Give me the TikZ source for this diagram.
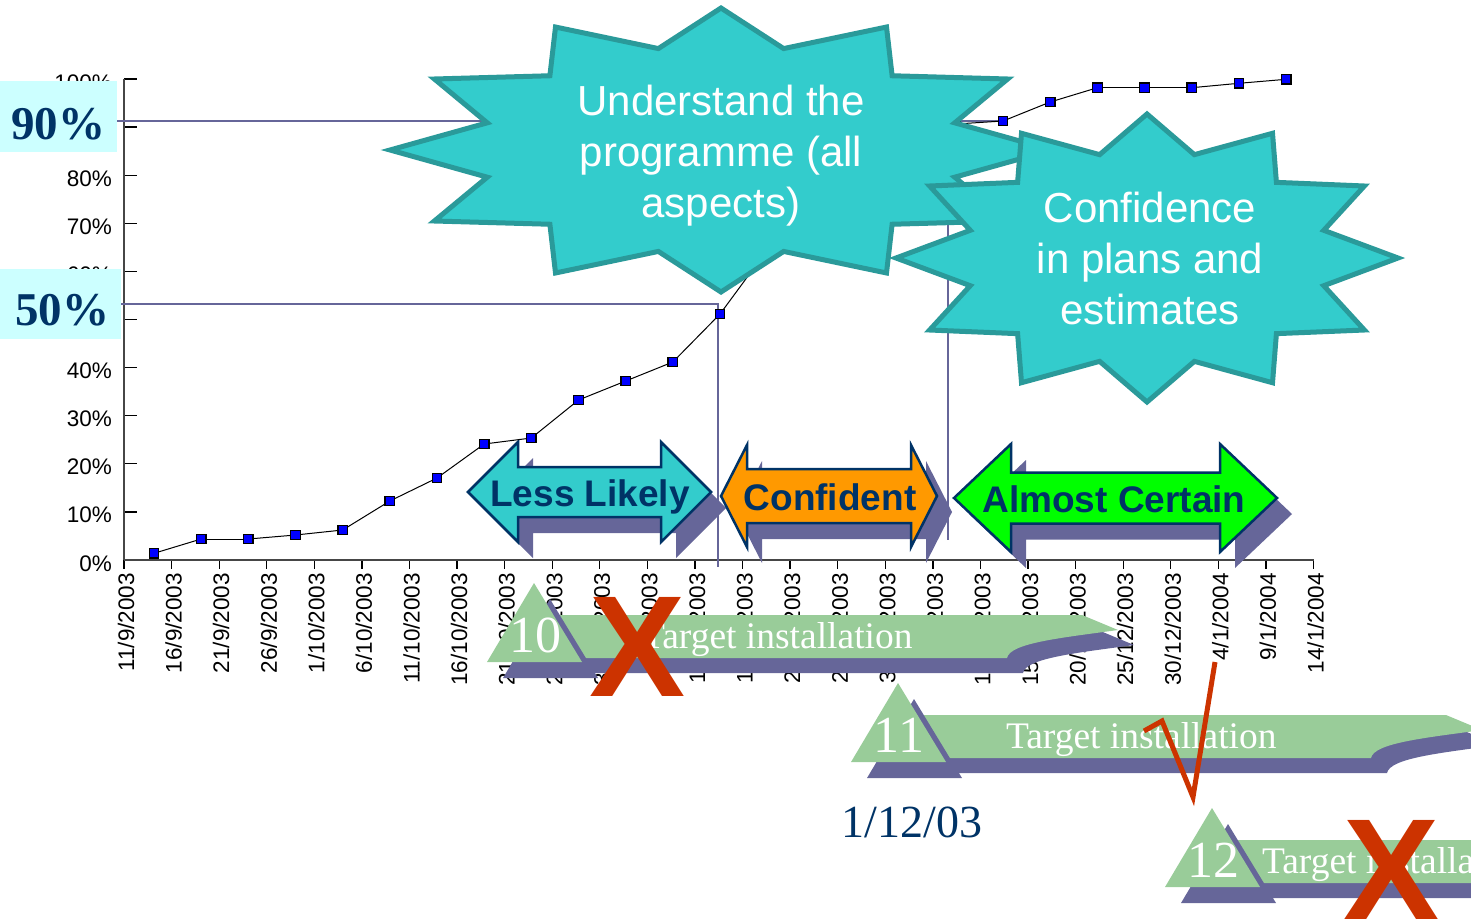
\documentclass[tikz,border=0pt]{standalone}
\usepackage{fontspec}
\setmainfont{Liberation Serif}
\setsansfont{Liberation Sans}

\definecolor{burstfill}{HTML}{33CCCC}
\definecolor{burstedge}{HTML}{2A9A9A}
\definecolor{slate}{HTML}{666699}
\definecolor{navy}{HTML}{003366}
\definecolor{paleblue}{HTML}{CCFFFF}
\definecolor{sage}{HTML}{99CC99}
\definecolor{alarm}{HTML}{CC3300}
\definecolor{amber}{HTML}{FF9900}
\definecolor{lime}{HTML}{00FF00}
\definecolor{markblue}{HTML}{0000FF}

% double-headed arrow outline: x1, x2, centre y, head length, head half-height, shaft half-height
\newcommand\dblarrowpath[6]{(#1,#3) -- (#1+#4,#3-#5) -- (#1+#4,#3-#6) -- (#2-#4,#3-#6) -- (#2-#4,#3-#5) -- (#2,#3) -- (#2-#4,#3+#5) -- (#2-#4,#3+#6) -- (#1+#4,#3+#6) -- (#1+#4,#3+#5) -- cycle}

% twelve-point burst: centre x, centre y, outer radii, inner radii
\newcommand\burstpath[6]{plot[samples at={0,15,...,345}, variable=\t] ({#1+((mod(\t,30)<1) ? #3 : #5)*cos(\t)}, {#2+((mod(\t,30)<1) ? #4 : #6)*sin(\t)}) -- cycle}

% milestone flag: name, apex x, apex y, number, x offset of caption
\newcommand\milestone[5]{%
  \begin{scope}[shift={(#2,#3)}]
    \fill[slate, shift={(16,15)}] (10,32) -- (548,32) -- (584,47) .. controls (526,55) and (476,60) .. (473,75) -- (10,75) -- cycle;
    \fill[sage] (10,32) -- (548,32) -- (584,47) .. controls (526,55) and (476,60) .. (473,75) -- (10,75) -- cycle;
    \fill[slate, shift={(16,16)}] (0,0) -- (-47,79) -- (48,79) -- cycle;
    \fill[sage] (0,0) -- (-47,79) -- (48,79) -- cycle;
    \node[flagnum, anchor=base] (#1num) at (1,69) {#4};
    \node[flagtext, anchor=base west] (#1txt) at (#5,65) {Target installation};
  \end{scope}}

\begin{document}
\begin{tikzpicture}[x=1pt, y=-1pt,
  every node/.style={inner sep=0pt, outer sep=0pt},
  axisline/.style={draw=gray!55!black, line width=1.6pt},
  tickmark/.style={draw=black, line width=1.3pt},
  ticklabel/.style={font=\sffamily\fontsize{22.5}{26}\selectfont},
  refline/.style={draw=slate, line width=2.6pt},
  dataline/.style={draw=black, line width=1pt},
  marker/.style={rectangle, draw=black, fill=markblue, line width=1.3pt, minimum size=9.5pt},
  levelbox/.style={fill=paleblue},
  leveltext/.style={font=\bfseries\fontsize{47}{50}\selectfont, text=navy},
  burst/.style={fill=burstfill, draw=burstedge, line width=5pt, line join=miter},
  bursttext/.style={font=\sffamily\fontsize{42}{51}\selectfont, text=white, align=center},
  arrowbody/.style={draw=navy, line width=2.5pt, line join=miter},
  arrowshade/.style={fill=slate},
  arrowtext/.style={font=\sffamily\bfseries\fontsize{37}{40}\selectfont, text=navy},
  flagnum/.style={font=\fontsize{52}{56}\selectfont, text=white},
  flagtext/.style={font=\fontsize{37.5}{40}\selectfont, text=white},
  cross/.style={font=\sffamily\bfseries\fontsize{144}{150}\selectfont, text=alarm},
  datetext/.style={font=\fontsize{46}{50}\selectfont, text=navy}]

\useasboundingbox (0,0) rectangle (1471,921);
\clip (0,0) rectangle (1471,921);

% ---------- axes ----------
\foreach \v in {0,10,...,100}{
  \draw[tickmark] (124,{560-4.81*\v}) -- (137,{560-4.81*\v});
}
% the 50% and 90% labels sit under the level boxes, so only the others are set
\foreach \v in {0,10,20,30,40,60,70,80,100}{
  \node[ticklabel, anchor=base east] (yl\v) at (112,{571-4.81*\v}) {\v\%};
}
\foreach \lab [count=\i from 0] in {{11/9/2003},{16/9/2003},{21/9/2003},{26/9/2003},{1/10/2003},{6/10/2003},{11/10/2003},{16/10/2003},{21/10/2003},{26/10/2003},{31/10/2003},{5/11/2003},{10/11/2003},{15/11/2003},{20/11/2003},{25/11/2003},{30/11/2003},{5/12/2003},{10/12/2003},{15/12/2003},{20/12/2003},{25/12/2003},{30/12/2003},{4/1/2004},{9/1/2004},{14/1/2004}}{
  \draw[tickmark] ({124+47.58*\i},560) -- ({124+47.58*\i},569);
  \node[ticklabel, rotate=90, anchor=east] (xl\i) at ({126+47.58*\i},573) {\lab};
}
\draw[axisline] (124,79) -- (124,560);
\draw[axisline] (124,560) -- (1314,560);

% ---------- confidence bands ----------
\fill[arrowshade, shift={(15,16)}] \dblarrowpath{468}{711}{492}{50}{50}{25};
\filldraw[arrowbody, fill=burstfill] \dblarrowpath{468}{711}{492}{50}{50}{25};
\node[arrowtext, anchor=base] (less) at (590,506) {Less Likely};

\fill[arrowshade, shift={(15,16)}] \dblarrowpath{721}{937}{496}{26}{51}{27};
\filldraw[arrowbody, fill=amber] \dblarrowpath{721}{937}{496}{26}{51}{27};
\node[arrowtext, anchor=base] (conf) at (830,510) {Confident};

\fill[arrowshade, shift={(15,16)}] \dblarrowpath{954}{1277}{498}{57}{54}{25.5};
\filldraw[arrowbody, fill=lime] \dblarrowpath{954}{1277}{498}{57}{54}{25.5};
\node[arrowtext, anchor=base] (certain) at (1114,512) {Almost Certain};

% ---------- 90% and 50% guide lines ----------
\coordinate (g90a) at (117,121);
\coordinate (g90b) at (1002,121);
\coordinate (g50a) at (121,304);
\coordinate (g50b) at (718,304);
\coordinate (g50c) at (718,567);
\coordinate (v90a) at (948,121);
\coordinate (v90b) at (948,540);
\draw[refline] (g90a) -- (g90b);
\draw[refline] (g50a) -- (g50b) -- (g50c);
\draw[refline] (v90a) -- (v90b);

% ---------- cumulative curve ----------
\foreach \yv [count=\k from 0] in {553.3,539,539,535,530,501,478,444,438,400,381,362,314,250,200,165,140,124,121,102,87.7,87.7,87.7,83.3,79.3}{
  \node[marker] (d\k) at ({154+47.17*\k},\yv) {};
}
\foreach \k [count=\kk from 1] in {0,...,23}{
  \draw[dataline] (d\k) -- (d\kk);
}

% ---------- level labels ----------
\fill[levelbox] (0,81) rectangle (117,152);
\node[leveltext, anchor=base] (lvl90) at (58,139) {90\%};
\fill[levelbox] (0,269) rectangle (121,339);
\node[leveltext, anchor=base] (lvl50) at (62,325) {50\%};

% ---------- bursts ----------
\path[burst] \burstpath{721}{150}{331}{142}{242}{105};
\node[bursttext] (understand) at (721,155.6) {Understand the\\programme (all\\aspects)};
\path[burst] \burstpath{1147}{258}{251}{144}{183}{107};
\node[bursttext] (confidence) at (1150,258.7) {Confidence\\in plans and\\estimates};

% ---------- milestones ----------
\milestone{ms10}{534}{583}{10}{108}
\milestone{ms11}{898}{683}{11}{108}
\milestone{ms12}{1212}{808}{12}{50}

\node[datetext, anchor=base] (date) at (912,837) {1/12/03};

% ---------- marks ----------
\node[cross] (miss10) at (638,646.5) {X};
\node[cross] (miss12) at (1392,869.5) {X};
\coordinate (tk1) at (1144,731);
\coordinate (tk2) at (1162,721);
\coordinate (tk3) at (1193,797);
\coordinate (tk4) at (1215,662);
\draw[draw=alarm, line width=5pt, line join=miter] (tk1) -- (tk2) -- (tk3) -- (tk4);

\end{tikzpicture}
\end{document}
